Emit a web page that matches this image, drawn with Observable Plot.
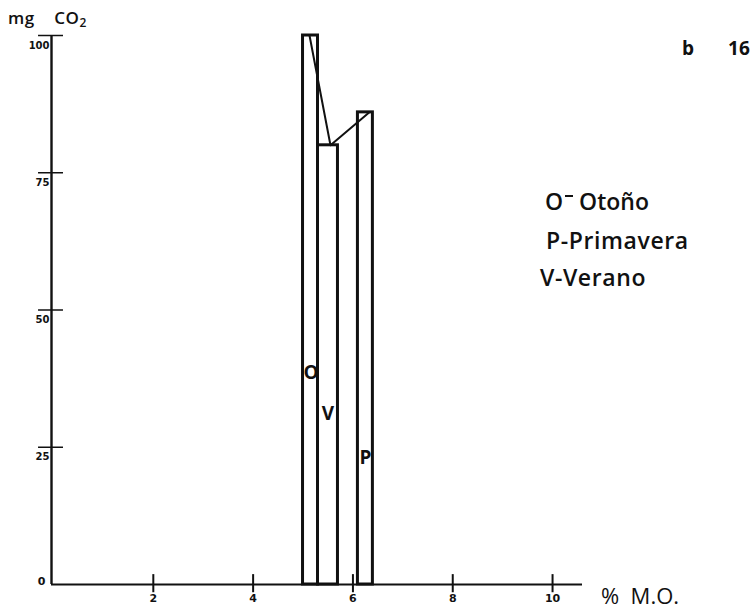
<!DOCTYPE html>
<html>
<head>
<meta charset="utf-8">
<script src="https://cdn.jsdelivr.net/npm/d3@7"></script>
<script src="https://cdn.jsdelivr.net/npm/@observablehq/plot@0.6"></script>
<style>
  html, body { margin: 0; padding: 0; background: #fff; }
  #wrap { position: relative; width: 756px; height: 615px; overflow: hidden; font-family: "Open Sans", sans-serif; color: #111; }
  .lbl { position: absolute; white-space: nowrap; line-height: 1; }
</style>
</head>
<body>
<div id="wrap">
  <div id="chart"></div>
  <div class="lbl" style="left:8px; top:9px; font-size:17px; font-weight:600; letter-spacing:0.5px;">mg&nbsp;&nbsp;&nbsp;&nbsp;CO<sub style="font-size:12px; vertical-align:-3px;">2</sub></div>
  <div class="lbl" style="left:682px; top:39px; font-size:19px; font-weight:700;">b<span style="display:inline-block; width:34px;"></span>16</div>
  <div class="lbl" style="left:545px; top:190px; font-size:23px; font-weight:600;">O<span style="display:inline-block; width:8px; height:2.5px; background:#111; vertical-align:13px; margin:0 6px 0 2px;"></span>Otoño</div>
  <div class="lbl" style="left:546px; top:229px; font-size:23px; font-weight:600; letter-spacing:0.6px;">P-Primavera</div>
  <div class="lbl" style="left:540px; top:266px; font-size:23px; font-weight:600; letter-spacing:0.6px;">V-Verano</div>
  <div class="lbl" style="left:601px; top:584px; font-size:22px; font-weight:400;">%&nbsp;&nbsp;M.O.</div>
</div>
<script>
// Data
const seasons = ["O", "V", "P"];
const xStart = [5.0, 5.3, 6.1];
const xEnd = [5.3, 5.7, 6.4];
const co2 = [100, 80, 86];
// connecting line through bar tops
const lineX = [5.13, 5.55, 6.33];
const lineY = [100, 80, 86];
// bar letter positions
const letterX = [5.16, 5.5, 6.25];
const letterY = [38.5, 31, 23];
// axes
const xTicks = [2, 4, 6, 8, 10];
const yTicks = [25, 50, 75, 100];
const yTickLabels = [25, 50, 75, 100];
const yZeroLabel = [0];
const xMax = 10.6;

const bars = seasons.map((s, i) => ({s, x1: xStart[i], x2: xEnd[i], y: co2[i]}));
const linePts = lineX.map((x, i) => ({x, y: lineY[i]}));
const letters = seasons.map((s, i) => ({s, x: letterX[i], y: letterY[i]}));

const chart = Plot.plot({
  width: 756,
  height: 615,
  marginLeft: 53,
  marginRight: 174,
  marginTop: 35,
  marginBottom: 31,
  x: {domain: [0, xMax], axis: null},
  y: {domain: [0, 100], axis: null},
  style: {background: "transparent", overflow: "visible"},
  marks: [
    Plot.rectY(bars, {x1: "x1", x2: "x2", y1: 0, y2: "y", fill: "none", stroke: "#111", strokeWidth: 3}),
    Plot.line(linePts, {x: "x", y: "y", stroke: "#111", strokeWidth: 2}),
    Plot.text(letters, {x: "x", y: "y", text: "s", fontSize: 19, fontWeight: 700, fill: "#111", fontFamily: "Open Sans"}),
    // axes lines
    Plot.ruleY([0], {x1: -0.04, x2: xMax, stroke: "#111", strokeWidth: 2.2}),
    Plot.ruleX([-0.04], {y1: 0, y2: 100, stroke: "#111", strokeWidth: 2.4}),
    // ticks crossing the axes
    Plot.ruleY(yTicks, {y: d => d, x1: -0.3, x2: 0.2, stroke: "#111", strokeWidth: 1.5}),
    Plot.ruleX(xTicks, {x: d => d, y1: -1.5, y2: 1.8, stroke: "#111", strokeWidth: 2}),
    // tick labels
    Plot.text(yTickLabels, {x: 0, y: d => d, text: d => String(d), textAnchor: "end", dx: -4, dy: 10, fontSize: 10, fontWeight: 700, fill: "#111", fontFamily: "DejaVu Sans"}),
    Plot.text(yZeroLabel, {x: 0, y: d => d, text: d => String(d), textAnchor: "end", dx: -8, dy: -3, fontSize: 11, fontWeight: 700, fill: "#111", fontFamily: "DejaVu Sans"}),
    Plot.text(xTicks, {x: d => d, y: 0, text: d => String(d), dy: 14, fontSize: 11, fontWeight: 700, fill: "#111", fontFamily: "DejaVu Sans"})
  ]
});
document.getElementById("chart").appendChild(chart);
</script>
</body>
</html>
